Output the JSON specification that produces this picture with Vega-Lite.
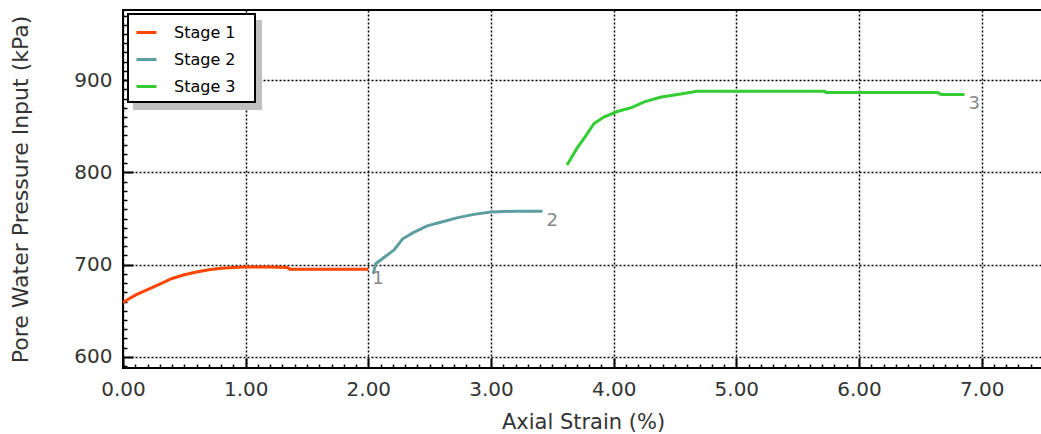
{
  "$schema": "https://vega.github.io/schema/vega-lite/v6.json",
  "width": 920,
  "height": 358,
  "autosize": "none",
  "padding": {"left": 123, "top": 10, "right": 0, "bottom": 66},
  "background": "white",
  "config": {
    "view": {"stroke": "black", "strokeWidth": 2},
    "font": "DejaVu Sans"
  },
  "data": {
    "values": [
      {"strain": 0.00, "pwp": 659, "stage": "Stage 1"},
      {"strain": 0.05, "pwp": 663, "stage": "Stage 1"},
      {"strain": 0.10, "pwp": 667, "stage": "Stage 1"},
      {"strain": 0.20, "pwp": 673, "stage": "Stage 1"},
      {"strain": 0.30, "pwp": 679, "stage": "Stage 1"},
      {"strain": 0.40, "pwp": 685, "stage": "Stage 1"},
      {"strain": 0.50, "pwp": 689, "stage": "Stage 1"},
      {"strain": 0.60, "pwp": 692, "stage": "Stage 1"},
      {"strain": 0.70, "pwp": 694.5, "stage": "Stage 1"},
      {"strain": 0.80, "pwp": 696, "stage": "Stage 1"},
      {"strain": 0.90, "pwp": 697, "stage": "Stage 1"},
      {"strain": 1.00, "pwp": 697.5, "stage": "Stage 1"},
      {"strain": 1.20, "pwp": 697.5, "stage": "Stage 1"},
      {"strain": 1.34, "pwp": 697, "stage": "Stage 1"},
      {"strain": 1.36, "pwp": 695, "stage": "Stage 1"},
      {"strain": 1.60, "pwp": 695, "stage": "Stage 1"},
      {"strain": 1.80, "pwp": 695, "stage": "Stage 1"},
      {"strain": 2.00, "pwp": 695, "stage": "Stage 1", "label": "1"},
      {"strain": 2.04, "pwp": 690, "stage": "Stage 2"},
      {"strain": 2.06, "pwp": 701, "stage": "Stage 2"},
      {"strain": 2.13, "pwp": 708, "stage": "Stage 2"},
      {"strain": 2.21, "pwp": 716, "stage": "Stage 2"},
      {"strain": 2.28, "pwp": 728, "stage": "Stage 2"},
      {"strain": 2.37, "pwp": 735, "stage": "Stage 2"},
      {"strain": 2.48, "pwp": 742, "stage": "Stage 2"},
      {"strain": 2.59, "pwp": 746, "stage": "Stage 2"},
      {"strain": 2.73, "pwp": 751, "stage": "Stage 2"},
      {"strain": 2.86, "pwp": 754.5, "stage": "Stage 2"},
      {"strain": 3.00, "pwp": 757, "stage": "Stage 2"},
      {"strain": 3.20, "pwp": 758, "stage": "Stage 2"},
      {"strain": 3.42, "pwp": 758, "stage": "Stage 2", "label": "2"},
      {"strain": 3.62, "pwp": 808, "stage": "Stage 3"},
      {"strain": 3.70, "pwp": 826, "stage": "Stage 3"},
      {"strain": 3.77, "pwp": 839, "stage": "Stage 3"},
      {"strain": 3.84, "pwp": 853, "stage": "Stage 3"},
      {"strain": 3.92, "pwp": 860, "stage": "Stage 3"},
      {"strain": 4.03, "pwp": 866, "stage": "Stage 3"},
      {"strain": 4.14, "pwp": 870, "stage": "Stage 3"},
      {"strain": 4.25, "pwp": 876.5, "stage": "Stage 3"},
      {"strain": 4.38, "pwp": 881.5, "stage": "Stage 3"},
      {"strain": 4.57, "pwp": 885.5, "stage": "Stage 3"},
      {"strain": 4.68, "pwp": 888, "stage": "Stage 3"},
      {"strain": 5.00, "pwp": 888, "stage": "Stage 3"},
      {"strain": 5.72, "pwp": 888, "stage": "Stage 3"},
      {"strain": 5.73, "pwp": 886.5, "stage": "Stage 3"},
      {"strain": 6.00, "pwp": 886.5, "stage": "Stage 3"},
      {"strain": 6.64, "pwp": 886.5, "stage": "Stage 3"},
      {"strain": 6.67, "pwp": 884.5, "stage": "Stage 3"},
      {"strain": 6.86, "pwp": 884.5, "stage": "Stage 3", "label": "3"}
    ]
  },
  "layer": [
    {
      "mark": {"type": "line", "opacity": 0},
      "encoding": {
        "x": {
          "field": "strain", "type": "quantitative",
          "scale": {"domain": [0, 7.5], "nice": false, "zero": false},
          "axis": {
            "orient": "bottom",
            "values": [0.1,0.2,0.3,0.4,0.5,0.6,0.7,0.8,0.9,1.1,1.2,1.3,1.4,1.5,1.6,1.7,1.8,1.9,2.1,2.2,2.3,2.4,2.5,2.6,2.7,2.8,2.9,3.1,3.2,3.3,3.4,3.5,3.6,3.7,3.8,3.9,4.1,4.2,4.3,4.4,4.5,4.6,4.7,4.8,4.9,5.1,5.2,5.3,5.4,5.5,5.6,5.7,5.8,5.9,6.1,6.2,6.3,6.4,6.5,6.6,6.7,6.8,6.9,7.1,7.2,7.3,7.4],
            "labels": false, "grid": false, "domain": false, "title": null,
            "tickSize": -4, "tickColor": "black", "tickWidth": 1.5
          }
        },
        "y": {
          "field": "pwp", "type": "quantitative",
          "scale": {"domain": [588, 976], "nice": false, "zero": false},
          "axis": {
            "orient": "left",
            "values": [590,610,620,630,640,650,660,670,680,690,710,720,730,740,750,760,770,780,790,810,820,830,840,850,860,870,880,890,910,920,930,940,950,960,970],
            "labels": false, "grid": false, "domain": false, "title": null,
            "tickSize": -4, "tickColor": "black", "tickWidth": 1.5
          }
        },
        "color": {
          "field": "stage", "type": "nominal",
          "scale": {"range": ["#c0c0c0", "#c0c0c0", "#c0c0c0"]},
          "legend": {
            "orient": "top-left", "offset": 11, "title": null,
            "fillColor": "#c0c0c0", "strokeColor": "#c0c0c0",
            "padding": 7, "symbolType": "stroke", "symbolSize": 400, "symbolStrokeWidth": 3,
            "labelFontSize": 16, "labelFont": "DejaVu Sans", "labelColor": "#c0c0c0",
            "labelOffset": 16, "rowPadding": 7,
            "labelExpr": "datum.label + '\u2800'",
            "encode": {"legend": {"update": {"strokeWidth": {"value": 2}}}}
          }
        }
      }
    },
    {
      "mark": {"type": "line", "strokeWidth": 3},
      "encoding": {
        "x": {
          "field": "strain", "type": "quantitative",
          "scale": {"domain": [0, 7.5], "nice": false, "zero": false},
          "axis": {
            "orient": "bottom",
            "values": [0, 1, 2, 3, 4, 5, 6, 7],
            "format": ".2f",
            "grid": true, "gridColor": "black", "gridDash": [2, 2], "gridWidth": 1.5,
            "domain": false, "labelFlush": false,
            "tickSize": -10, "tickColor": "black", "tickWidth": 2,
            "labelFont": "DejaVu Sans", "labelFontSize": 20, "labelColor": "#333333", "labelPadding": 21,
            "title": "Axial Strain (%)", "titleFont": "DejaVu Sans", "titleFontSize": 21,
            "titleFontWeight": "normal", "titleColor": "#333333", "titlePadding": 12
          }
        },
        "y": {
          "field": "pwp", "type": "quantitative",
          "scale": {"domain": [588, 976], "nice": false, "zero": false},
          "axis": {
            "orient": "left",
            "values": [600, 700, 800, 900],
            "grid": true, "gridColor": "black", "gridDash": [2, 2], "gridWidth": 1.5,
            "domain": false,
            "tickSize": -10, "tickColor": "black", "tickWidth": 2,
            "labelFont": "DejaVu Sans", "labelFontSize": 20, "labelColor": "#333333", "labelPadding": 21,
            "title": "Pore Water Pressure Input (kPa)", "titleFont": "DejaVu Sans", "titleFontSize": 22,
            "titleFontWeight": "normal", "titleColor": "#333333", "titlePadding": 41
          }
        },
        "stroke": {
          "field": "stage", "type": "nominal",
          "scale": {"domain": ["Stage 1", "Stage 2", "Stage 3"], "range": ["#FF4500", "#5F9EA0", "#33CC33"]},
          "legend": {
            "orient": "none", "legendX": 5, "legendY": 4, "title": null,
            "fillColor": "white", "strokeColor": "black",
            "padding": 7, "symbolType": "stroke", "symbolSize": 400, "symbolStrokeWidth": 3,
            "labelFontSize": 16, "labelFont": "DejaVu Sans", "labelColor": "black",
            "labelOffset": 16, "rowPadding": 7,
            "labelExpr": "datum.label + '\u2800'",
            "encode": {"legend": {"update": {"strokeWidth": {"value": 2}}}}
          }
        }
      }
    },
    {
      "transform": [{"filter": "datum.label"}],
      "mark": {"type": "text", "align": "left", "baseline": "top", "dx": 4, "dy": 1, "fontSize": 18, "font": "DejaVu Sans", "color": "#888888"},
      "encoding": {
        "x": {"field": "strain", "type": "quantitative", "axis": null},
        "y": {"field": "pwp", "type": "quantitative", "axis": null},
        "text": {"field": "label"}
      }
    }
  ],
  "resolve": {"axis": {"x": "independent", "y": "independent"}}
}
